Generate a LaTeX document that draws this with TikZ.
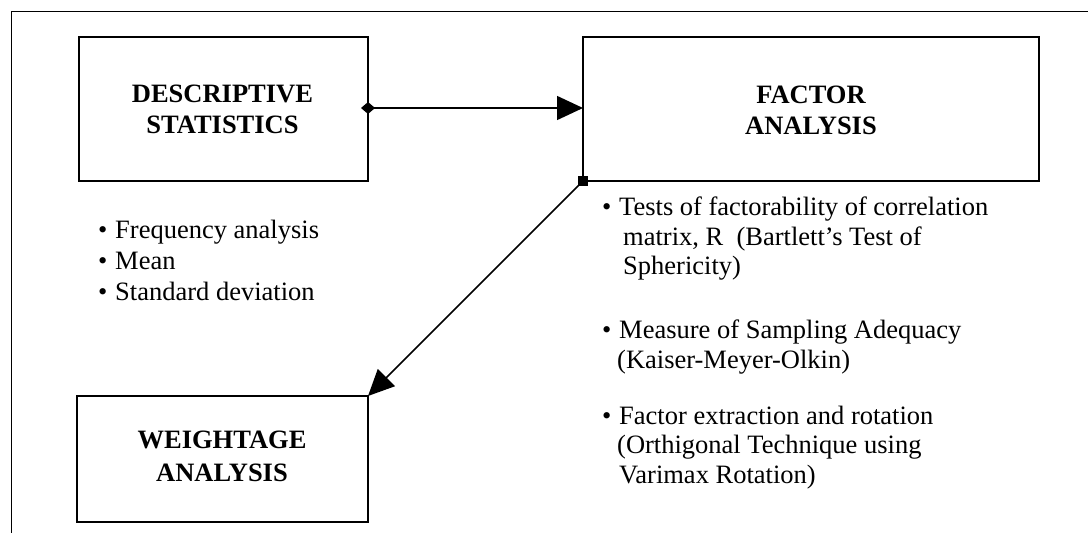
\documentclass[tikz,border=0pt]{standalone}
\usepackage{fontspec}
\setmainfont{Liberation Serif}
\usetikzlibrary{arrows.meta}
\tikzset{
  box/.style={draw, line width=1.6pt},
  thinbox/.style={draw, line width=1.1pt},
  head/.style={font=\fontsize{26.5}{31}\selectfont\bfseries, anchor=base, inner sep=0pt},
  txt/.style={font=\fontsize{26.5}{30}\selectfont, anchor=base west, inner sep=0pt},
  conn/.style={line width=1.5pt},
  marker/.style={fill, minimum size=10pt, inner sep=0pt, draw=none},
}
\begin{document}
\begin{tikzpicture}[x=1pt,y=-1pt]
\useasboundingbox (0,0) rectangle (1088,533);
% outer frame (open at right and bottom)
\draw[line width=1pt] (11,533) -- (11,11) -- (1088,11);
% boxes
\draw[box] (79,37) rectangle (368,181);
\node[head] (ds1) at (222.5,102) {DESCRIPTIVE};
\node[head] (ds2) at (222.5,133) {STATISTICS};
\coordinate (dsE) at (368,108);
\draw[box] (583,37) rectangle (1039,181);
\node[head] (fa1) at (811,103) {FACTOR};
\node[head] (fa2) at (811,134) {ANALYSIS};
\coordinate (faW) at (583,108);
\coordinate (faSW) at (583,181);
\draw[thinbox] (77,396) rectangle (368,522);
\node[head] (wa1) at (222,448) {WEIGHTAGE};
\node[head] (wa2) at (222,481) {ANALYSIS};
\coordinate (waNE) at (368,396);
% connectors
\draw[conn, {Diamond[length=14pt,width=12pt]}-{Triangle[length=26pt,width=24pt]}, shorten <=-7pt] (dsE) -- (faW);
\draw[conn, -{Triangle[length=26pt,width=24pt]}] (faSW) -- (waNE);
\node[marker] (sq) at (faSW) {};
% left list
\node[txt] (lb1) at (98,238) {\textbullet};
\node[txt] (l1) at (115,238) {Frequency analysis};
\node[txt] (lb2) at (98,269) {\textbullet};
\node[txt] (l2) at (115,269) {Mean};
\node[txt] (lb3) at (98,300) {\textbullet};
\node[txt] (l3) at (115,300) {Standard deviation};
% right list
\node[txt] (rb1) at (602,215) {\textbullet};
\node[txt] (r1a) at (619,215) {Tests of factorability of correlation};
\node[txt] (r1b) at (623,245) {matrix, R\ \ (Bartlett’s Test of};
\node[txt] (r1c) at (623,274) {Sphericity)};
\node[txt] (rb2) at (602,338) {\textbullet};
\node[txt] (r2a) at (619,338) {Measure of Sampling Adequacy};
\node[txt] (r2b) at (617,368) {(Kaiser-Meyer-Olkin)};
\node[txt] (rb3) at (602,424) {\textbullet};
\node[txt] (r3a) at (619,424) {Factor extraction and rotation};
\node[txt] (r3b) at (617,453) {(Orthigonal Technique using};
\node[txt] (r3c) at (619,483) {Varimax Rotation)};
\end{tikzpicture}
\end{document}
